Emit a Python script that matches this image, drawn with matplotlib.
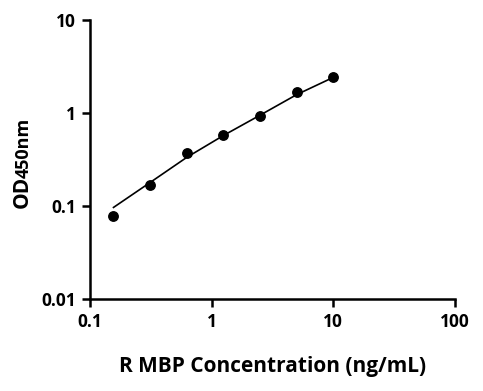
import matplotlib
matplotlib.use("Agg")
import matplotlib.pyplot as plt
from matplotlib.ticker import FixedLocator, FixedFormatter, NullLocator

# Data
conc = [0.156, 0.3125, 0.625, 1.25, 2.5, 5, 10]
od = [0.079, 0.171, 0.375, 0.58, 0.92, 1.67, 2.46]
fit_x = [0.156, 0.3125, 0.625, 1.25, 2.5, 5, 10]
fit_y = [0.097, 0.18, 0.335, 0.575, 0.95, 1.58, 2.42]
xticks = [0.1, 1, 10, 100]
xtick_labels = ["0.1", "1", "10", "100"]
yticks = [0.01, 0.1, 1, 10]
ytick_labels = ["0.01", "0.1", "1", "10"]
xlabel = "R MBP Concentration (ng/mL)"
ylabel_main = "OD"
ylabel_sub = "450nm"

plt.rcParams['font.family'] = ['Open Sans', 'DejaVu Sans']
W, H = 483, 391
fig = plt.figure(figsize=(W/100, H/100), dpi=100)
ax = fig.add_axes([90/W, 1-299.3/H, (455-90)/W, (299.3-20)/H])
ax.set_xscale('log')
ax.set_yscale('log')
ax.set_xlim(0.1, 100)
ax.set_ylim(0.01, 10)

ax.plot(fit_x, fit_y, color='black', lw=1.2, zorder=2)
ax.plot(conc, od, 'o', color='black', ms=6.8, zorder=3, clip_on=False)

ax.xaxis.set_major_locator(FixedLocator(xticks))
ax.xaxis.set_major_formatter(FixedFormatter(xtick_labels))
ax.yaxis.set_major_locator(FixedLocator(yticks))
ax.yaxis.set_major_formatter(FixedFormatter(ytick_labels))
ax.xaxis.set_minor_locator(NullLocator())
ax.yaxis.set_minor_locator(NullLocator())

for s in ['top', 'right']:
    ax.spines[s].set_visible(False)
for s in ['left', 'bottom']:
    ax.spines[s].set_linewidth(1.8)
ax.tick_params(axis='both', which='major', length=6, width=1.8, labelsize=12.5, pad=4)
for lab in ax.get_xticklabels() + ax.get_yticklabels():
    lab.set_fontweight('bold')

ax.set_xlabel(xlabel, fontsize=15, fontweight='bold', labelpad=18)

# y label: "OD" followed by smaller "450nm", drawn contiguously
t1 = fig.text(33/W, 1-208/H, ylabel_main, rotation=90, ha='right', va='bottom',
              fontsize=15, fontweight='bold')
fig.canvas.draw()
r = fig.canvas.get_renderer()
bb = t1.get_window_extent(r)
top_px = bb.y1  # display coords (from bottom)
fig.text(33/W, (top_px - 2)/H, ylabel_sub, rotation=90, ha='right', va='bottom',
         fontsize=13, fontweight='bold')

fig.savefig("out.png", dpi=100)
